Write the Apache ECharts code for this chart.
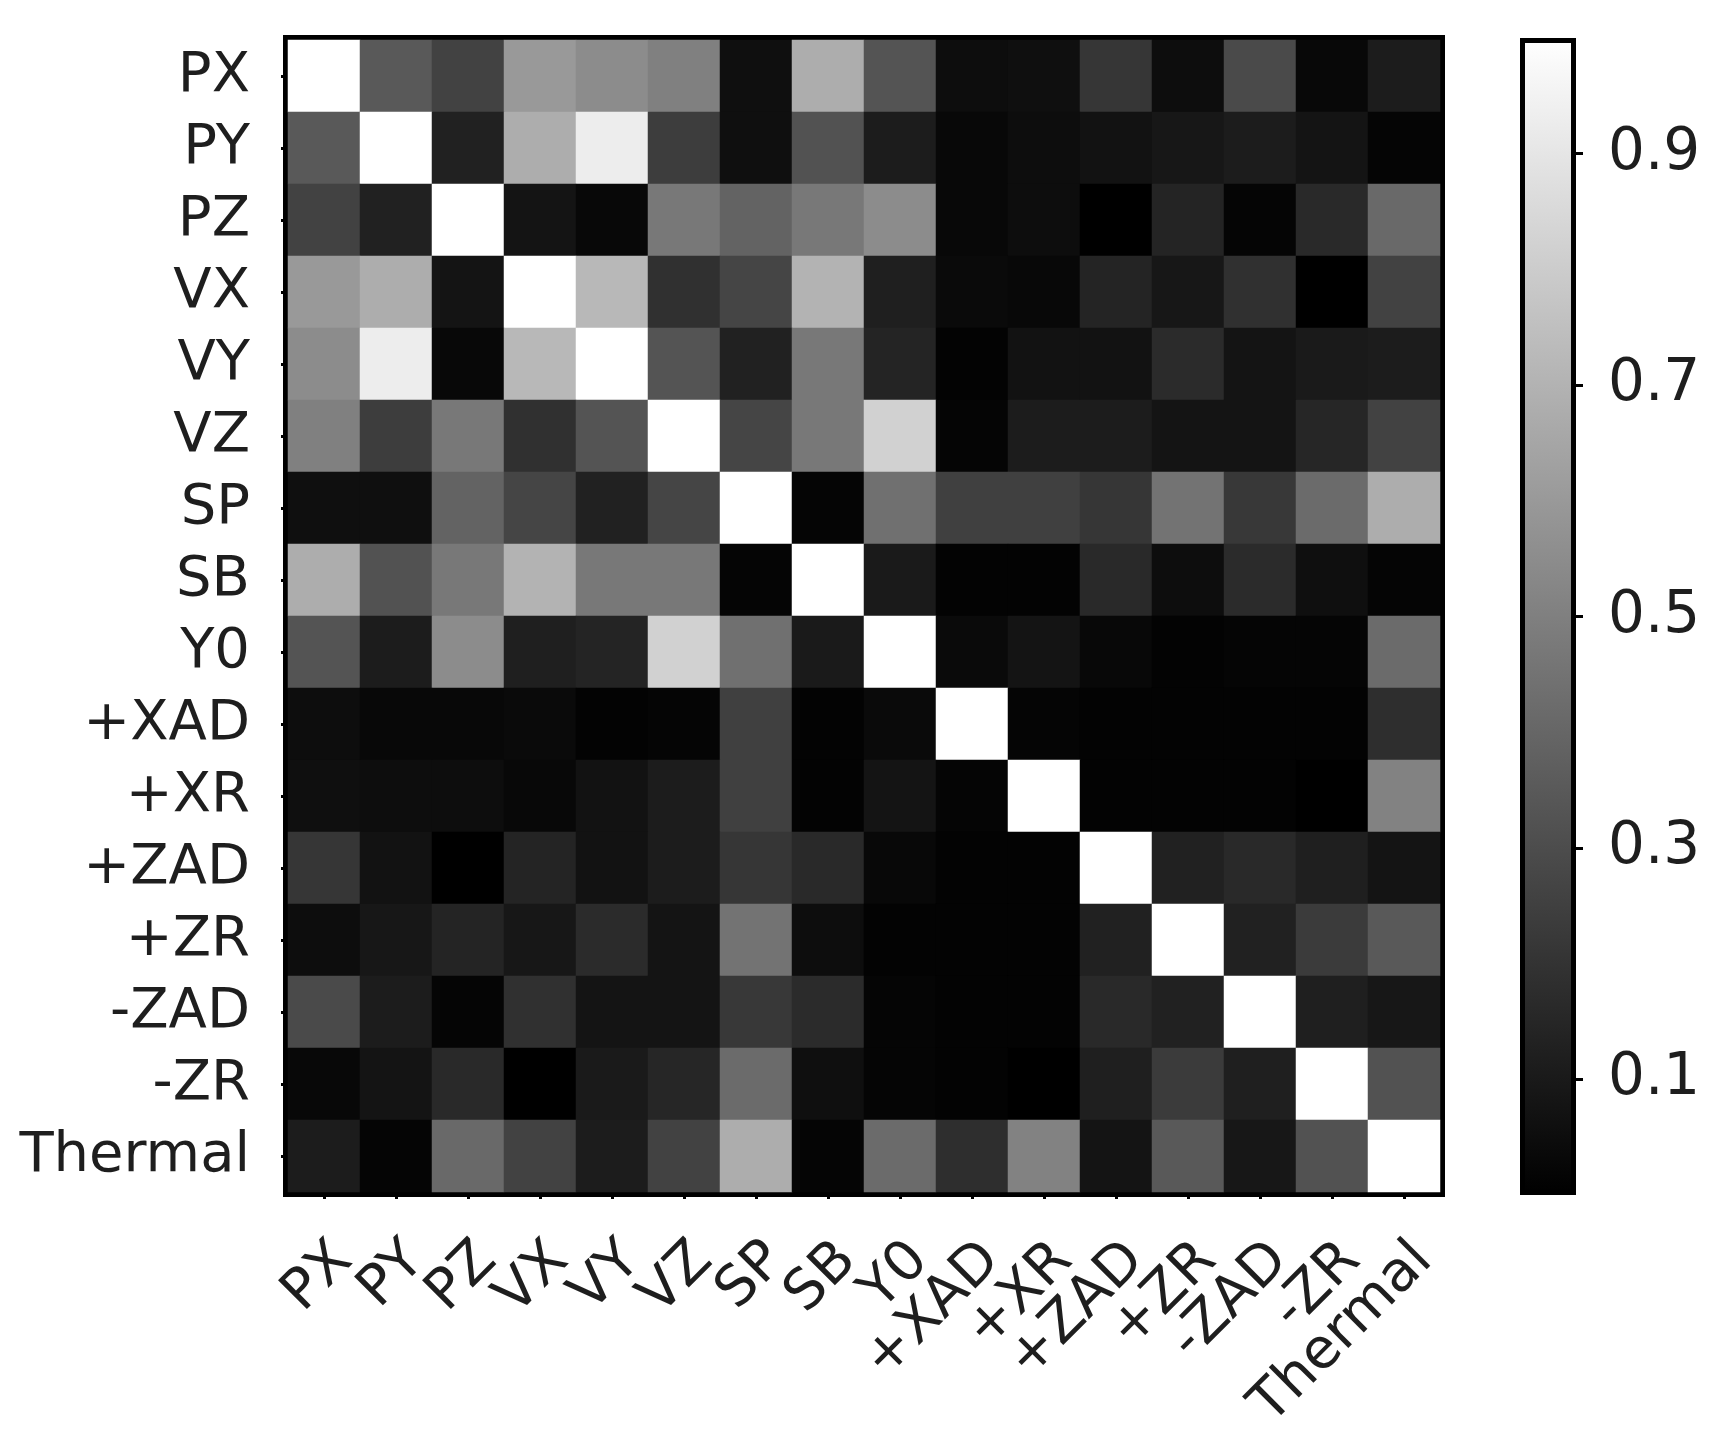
<!DOCTYPE html>
<html>
<head>
<meta charset="utf-8">
<script src="https://cdn.jsdelivr.net/npm/echarts@6.0.0/dist/echarts.min.js"></script>
<style>
    html, body { margin: 0; padding: 0; background: #fff; }
    #charts { width: 1732px; height: 1436px; }
</style>
</head>
<body>
<div id="charts"></div>
<script>
// variable names (same order on both axes)
var labels = ['PX', 'PY', 'PZ', 'VX', 'VY', 'VZ', 'SP', 'SB', 'Y0', '+XAD', '+XR', '+ZAD', '+ZR', '-ZAD', '-ZR', 'Thermal'];

// one row of the matrix per variable
var rowPX   = [1.00, 0.35, 0.26, 0.60, 0.55, 0.50, 0.06, 0.68, 0.33, 0.05, 0.06, 0.21, 0.05, 0.29, 0.03, 0.11];
var rowPY   = [0.35, 1.00, 0.13, 0.68, 0.93, 0.24, 0.06, 0.32, 0.11, 0.03, 0.05, 0.07, 0.09, 0.11, 0.08, 0.02];
var rowPZ   = [0.26, 0.13, 1.00, 0.08, 0.03, 0.47, 0.39, 0.47, 0.55, 0.03, 0.05, 0.00, 0.14, 0.02, 0.16, 0.41];
var rowVX   = [0.60, 0.68, 0.08, 1.00, 0.72, 0.19, 0.27, 0.70, 0.12, 0.04, 0.03, 0.14, 0.09, 0.19, 0.00, 0.26];
var rowVY   = [0.55, 0.93, 0.03, 0.72, 1.00, 0.33, 0.13, 0.47, 0.14, 0.01, 0.07, 0.07, 0.17, 0.08, 0.10, 0.11];
var rowVZ   = [0.50, 0.24, 0.47, 0.19, 0.33, 1.00, 0.27, 0.47, 0.82, 0.02, 0.11, 0.11, 0.08, 0.08, 0.15, 0.26];
var rowSP   = [0.06, 0.06, 0.39, 0.27, 0.13, 0.27, 1.00, 0.02, 0.44, 0.25, 0.25, 0.21, 0.45, 0.22, 0.42, 0.68];
var rowSB   = [0.68, 0.32, 0.47, 0.70, 0.47, 0.47, 0.02, 1.00, 0.10, 0.01, 0.01, 0.16, 0.05, 0.17, 0.06, 0.02];
var rowY0   = [0.33, 0.11, 0.55, 0.12, 0.14, 0.82, 0.44, 0.10, 1.00, 0.04, 0.08, 0.03, 0.01, 0.02, 0.02, 0.42];
var rowXADp = [0.05, 0.03, 0.03, 0.04, 0.01, 0.02, 0.25, 0.01, 0.04, 1.00, 0.02, 0.01, 0.01, 0.01, 0.01, 0.18];
var rowXRp  = [0.06, 0.05, 0.05, 0.03, 0.07, 0.11, 0.25, 0.01, 0.08, 0.02, 1.00, 0.01, 0.01, 0.01, 0.00, 0.51];
var rowZADp = [0.21, 0.07, 0.00, 0.14, 0.07, 0.11, 0.21, 0.16, 0.03, 0.01, 0.01, 1.00, 0.13, 0.16, 0.12, 0.08];
var rowZRp  = [0.05, 0.09, 0.14, 0.09, 0.17, 0.08, 0.45, 0.05, 0.01, 0.01, 0.01, 0.13, 1.00, 0.13, 0.23, 0.35];
var rowZADm = [0.29, 0.11, 0.02, 0.19, 0.08, 0.08, 0.22, 0.17, 0.02, 0.01, 0.01, 0.16, 0.13, 1.00, 0.12, 0.09];
var rowZRm  = [0.03, 0.08, 0.16, 0.00, 0.10, 0.15, 0.42, 0.06, 0.02, 0.01, 0.00, 0.12, 0.23, 0.12, 1.00, 0.32];
var rowTh   = [0.11, 0.02, 0.41, 0.26, 0.11, 0.26, 0.68, 0.02, 0.42, 0.18, 0.51, 0.08, 0.35, 0.09, 0.32, 1.00];

// colour bar tick labels
var cbarTicks = [0.1, 0.3, 0.5, 0.7, 0.9];

var rows = [rowPX, rowPY, rowPZ, rowVX, rowVY, rowVZ, rowSP, rowSB, rowY0,
            rowXADp, rowXRp, rowZADp, rowZRp, rowZADm, rowZRm, rowTh];

var heatData = [];
rows.forEach(function (row, y) {
    row.forEach(function (v, x) {
        heatData.push([x, y, v]);
    });
});

var font = 'DejaVu Sans';
var textColor = '#1e1e1e';

var chartDom = document.getElementById('charts');
var myChart = echarts.init(chartDom, null, { renderer: 'canvas' });
var option;

option = {
    backgroundColor: '#fff',
    animation: false,
    grid: [
        {   // matrix; the thick border sits half under the cells
            left: 288, top: 40, width: 1152, height: 1152,
            show: true, borderColor: '#000', borderWidth: 10,
            backgroundColor: 'transparent',
            outerBoundsMode: 'none'
        },
        {   // colour bar
            left: 1520, top: 38, width: 56, height: 1157,
            show: false,
            outerBoundsMode: 'none'
        }
    ],
    xAxis: [
        {
            type: 'category', gridIndex: 0, data: labels,
            axisLine: { show: false },
            axisTick: { show: true, alignWithLabel: true, length: 7, lineStyle: { color: '#000', width: 3 } },
            axisLabel: {
                interval: 0, rotate: 45, margin: 40,
                align: 'right', verticalAlign: 'top',
                fontFamily: font, fontSize: 56, color: textColor
            },
            splitLine: { show: false }
        },
        {
            type: 'category', gridIndex: 1, data: ['cbar'],
            show: false
        }
    ],
    yAxis: [
        {
            type: 'category', gridIndex: 0, data: labels, inverse: true,
            axisLine: { show: false },
            axisTick: { show: true, alignWithLabel: true, length: 7, lineStyle: { color: '#000', width: 3 } },
            axisLabel: {
                interval: 0, margin: 38,
                fontFamily: font, fontSize: 56, color: textColor
            },
            splitLine: { show: false }
        },
        {
            type: 'value', gridIndex: 1, min: 0, max: 1, position: 'right',
            axisLine: { show: false },
            axisTick: { show: true, length: 7, customValues: cbarTicks, lineStyle: { color: '#000', width: 3 } },
            axisLabel: {
                customValues: cbarTicks, margin: 32,
                fontFamily: font, fontSize: 58, color: textColor,
                formatter: function (v) { return v.toFixed(1); }
            },
            splitLine: { show: false }
        }
    ],
    visualMap: {
        show: false,
        type: 'continuous',
        seriesIndex: 0,
        min: 0,
        max: 1,
        inRange: { color: ['#000000', '#ffffff'] }
    },
    series: [
        {
            type: 'heatmap',
            xAxisIndex: 0, yAxisIndex: 0,
            data: heatData,
            itemStyle: { borderWidth: 0 },
            emphasis: { disabled: true },
            z: 1
        },
        {
            type: 'bar',
            xAxisIndex: 1, yAxisIndex: 1,
            data: [1],
            barWidth: '100%',
            itemStyle: {
                color: new echarts.graphic.LinearGradient(0, 0, 0, 1, [
                    { offset: 0, color: '#ffffff' },
                    { offset: 1, color: '#000000' }
                ]),
                borderColor: '#000',
                borderWidth: 5
            },
            emphasis: { disabled: true }
        }
    ]
};

option && myChart.setOption(option);
</script>
</body>
</html>
